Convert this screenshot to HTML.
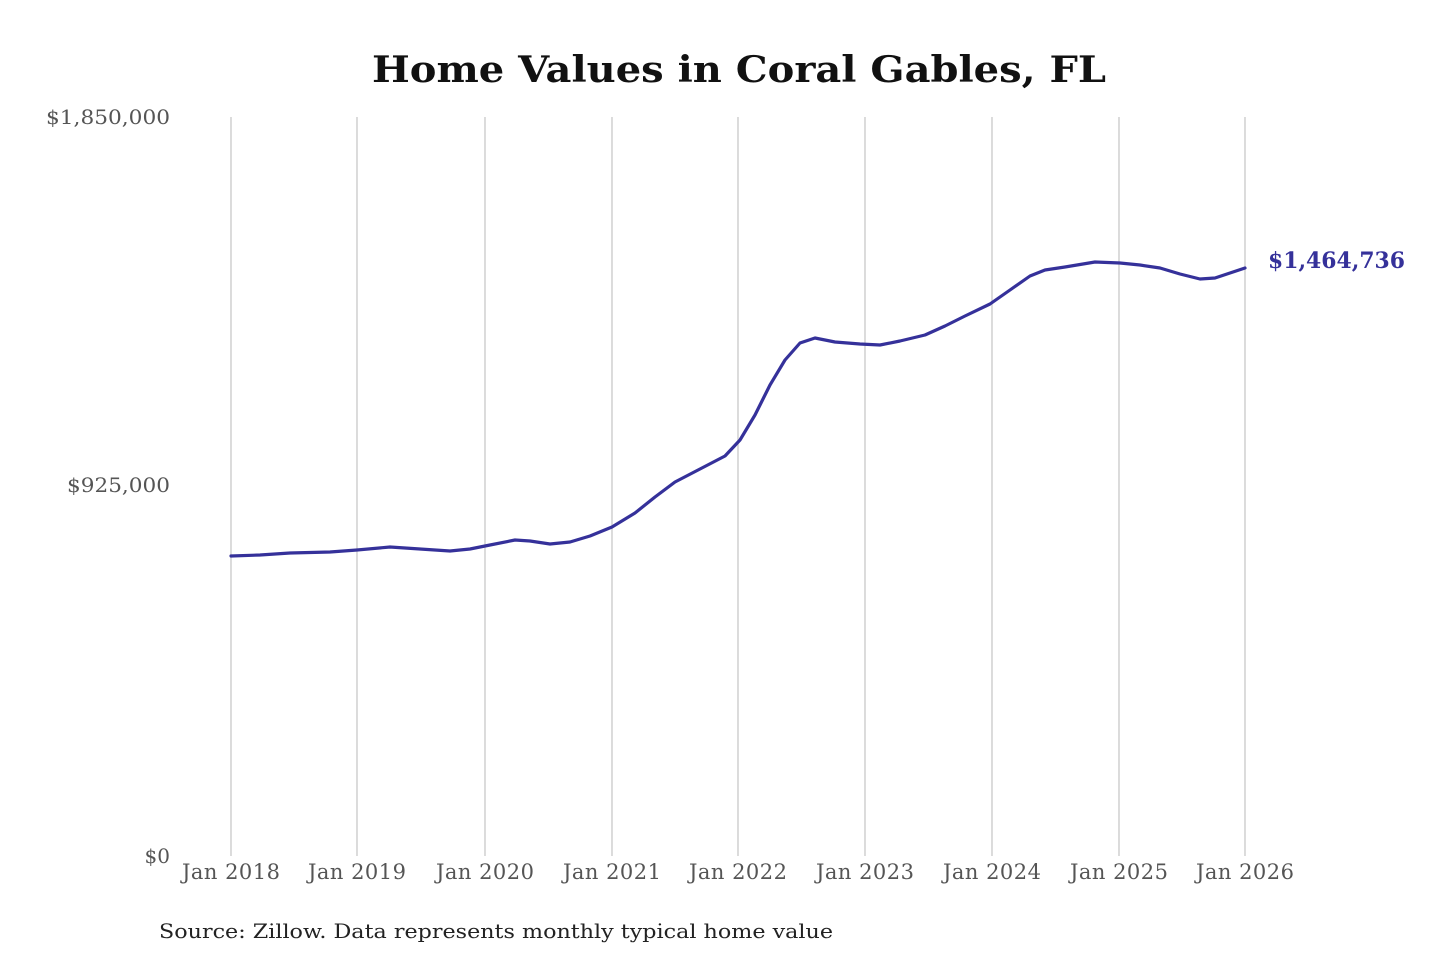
<!DOCTYPE html>
<html><head><meta charset="utf-8"><style>
html,body{margin:0;padding:0;background:#fff;}
svg{display:block;}
</style></head><body>
<svg width="1440" height="960" xmlns="http://www.w3.org/2000/svg" font-family="'DejaVu Serif','Liberation Serif',serif">
<rect width="1440" height="960" fill="#fff"/>
<text x="739" y="82" text-anchor="middle" font-size="36" font-weight="bold" fill="#111" textLength="734" lengthAdjust="spacingAndGlyphs">Home Values in Coral Gables, FL</text>
<g stroke="#c8c8c8" stroke-width="1.3">
<line x1="231" y1="117" x2="231" y2="856"/><line x1="357" y1="117" x2="357" y2="856"/>
<line x1="485" y1="117" x2="485" y2="856"/><line x1="612" y1="117" x2="612" y2="856"/>
<line x1="738" y1="117" x2="738" y2="856"/><line x1="865" y1="117" x2="865" y2="856"/>
<line x1="992" y1="117" x2="992" y2="856"/><line x1="1119" y1="117" x2="1119" y2="856"/>
<line x1="1245" y1="117" x2="1245" y2="856"/>
</g>
<g font-size="20" fill="#555" text-anchor="end">
<text x="170" y="124" textLength="124" lengthAdjust="spacingAndGlyphs">$1,850,000</text>
<text x="170" y="492" textLength="103" lengthAdjust="spacingAndGlyphs">$925,000</text>
<text x="170" y="863">$0</text>
</g>
<g font-size="21" fill="#555" text-anchor="middle" lengthAdjust="spacingAndGlyphs">
<text x="231" y="879" textLength="98">Jan 2018</text><text x="357" y="879" textLength="98">Jan 2019</text>
<text x="485" y="879" textLength="98">Jan 2020</text><text x="612" y="879" textLength="98">Jan 2021</text>
<text x="738" y="879" textLength="98">Jan 2022</text><text x="865" y="879" textLength="98">Jan 2023</text>
<text x="992" y="879" textLength="98">Jan 2024</text><text x="1119" y="879" textLength="98">Jan 2025</text>
<text x="1245" y="879" textLength="98">Jan 2026</text>
</g>
<polyline fill="none" stroke="#35319a" stroke-width="3.2" stroke-linejoin="round" stroke-linecap="round" points="231,556 260,555 290,553 330,552 357,550 390,547 420,549 450,551 470,549 490,545 515,540 530,541 550,544 570,542 590,536 612,527 635,513 655,497 675,482 700,469 725,456 740,440 755,415 770,385 785,360 800,343 815,338 835,342 860,344 880,345 900,341 925,335 945,326 965,316 990,304 1010,290 1030,276 1045,270 1065,267 1095,262 1120,263 1140,265 1160,268 1180,274 1200,279 1215,278 1230,273 1245,268"/>
<text x="1268" y="268" font-size="22" font-weight="bold" fill="#35319a" textLength="137" lengthAdjust="spacingAndGlyphs">$1,464,736</text>
<text x="159" y="938" font-size="20" fill="#222" textLength="674" lengthAdjust="spacingAndGlyphs">Source: Zillow. Data represents monthly typical home value</text>
</svg>
</body></html>
